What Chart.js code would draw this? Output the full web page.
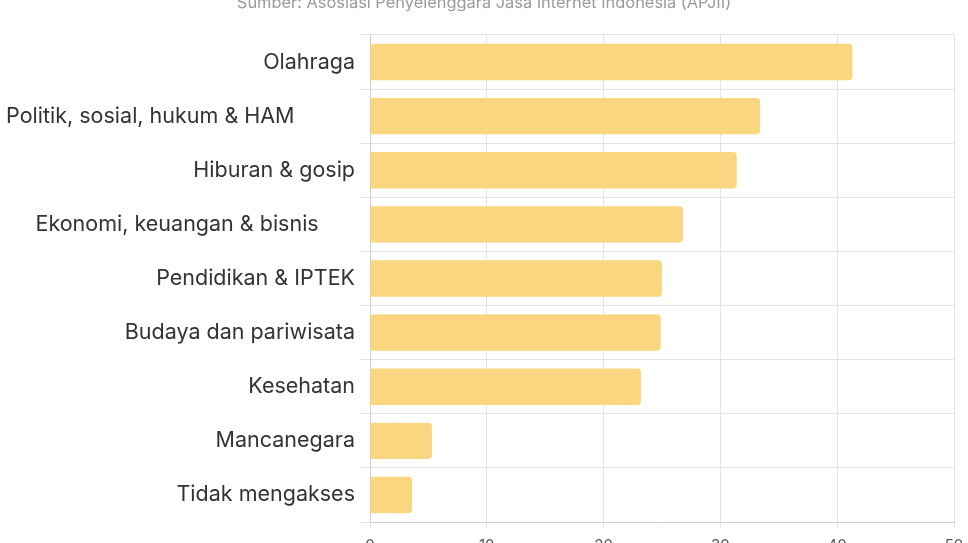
<!DOCTYPE html>
<html>
<head>
<meta charset="utf-8">
<script src="https://cdn.jsdelivr.net/npm/chart.js@4/dist/chart.umd.min.js"></script>
<style>
html,body{margin:0;padding:0;background:#fff;overflow:hidden;width:968px;height:543px;}
#wrap{position:absolute;left:0;top:-12px;width:968px;height:575px;}
</style>
</head>
<body>
<div id="wrap"><canvas id="c" width="968" height="575"></canvas></div>
<script>
const sourceText = "Sumber: Asosiasi Penyelenggara Jasa Internet Indonesia (APJII)";
const categories = [
  "Olahraga",
  "Politik, sosial, hukum & HAM\u00a0\u00a0\u00a0\u00a0\u00a0\u00a0\u00a0\u00a0\u00a0\u00a0",
  "Hiburan & gosip",
  "Ekonomi, keuangan & bisnis\u00a0\u00a0\u00a0\u00a0\u00a0\u00a0",
  "Pendidikan & IPTEK",
  "Budaya dan pariwisata",
  "Kesehatan",
  "Mancanegara",
  "Tidak mengakses"
];
const values = [41.3, 33.4, 31.4, 26.8, 25.0, 24.9, 23.2, 5.3, 3.6];
const xTicks = [0, 10, 20, 30, 40, 50];

new Chart(document.getElementById('c'), {
  type: 'bar',
  data: {
    labels: categories,
    datasets: [{
      data: values,
      backgroundColor: 'rgb(250,214,128)',
      borderRadius: 4,
      borderSkipped: 'start',
      barPercentage: 0.84,
      categoryPercentage: 0.8
    }]
  },
  options: {
    indexAxis: 'y',
    responsive: false,
    animation: false,
    layout: { padding: { left: 0, right: 0, top: 0, bottom: 1 } },
    plugins: {
      legend: { display: false },
      tooltip: { enabled: false },
      title: {
        display: true,
        text: sourceText,
        color: '#9a9a9a',
        font: { family: 'Inter', size: 16.4, weight: 'normal' },
        padding: { top: 5.2, bottom: 22.1 }
      }
    },
    scales: {
      x: {
        min: 0, max: 50,
        afterBuildTicks: (s) => { s.ticks = xTicks.map(v => ({ value: v })); },
        afterFit: (s) => { s.paddingRight = 0; s.paddingLeft = 0; },
        grid: { color: '#e3e3e3', tickLength: 6 },
        border: { color: '#cfcfcf' },
        ticks: { color: '#555', font: { family: 'Inter', size: 15 }, padding: 8 }
      },
      y: {
        afterFit: (s) => { s.width = 370; },
        grid: { color: '#e3e3e3', tickLength: 10, offset: true },
        border: { color: '#cfcfcf' },
        ticks: { color: '#333', font: { family: 'Inter', size: 21.5 }, padding: 5 }
      },
      yRight: {
        type: 'category',
        axis: 'y',
        position: 'right',
        afterFit: (s) => { s.width = 14; },
        grid: { display: false },
        border: { display: false },
        ticks: { display: false }
      }
    }
  }
});
</script>
</body>
</html>
